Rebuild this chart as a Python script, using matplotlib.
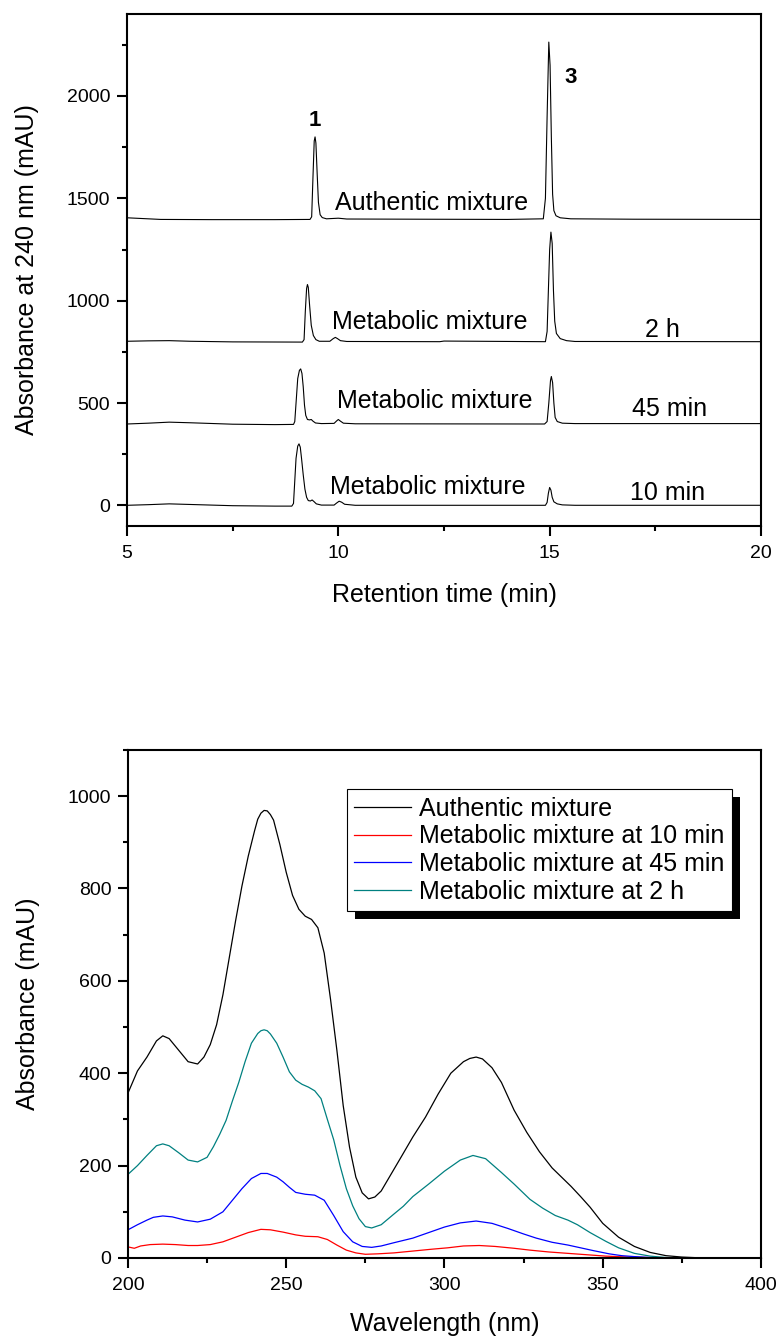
import numpy as np
import matplotlib
matplotlib.use('Agg')
import matplotlib.pyplot as plt
from matplotlib.patches import Rectangle
from matplotlib.ticker import MultipleLocator

plt.rcParams['font.family'] = ['Liberation Sans', 'DejaVu Sans']

# --- chromatograms (retention time in min, absorbance at 240 nm in mAU) ---
t_auth = [5.0, 5.8, 7.0, 8.5, 9.33, 9.37, 9.40, 9.43, 9.45, 9.47, 9.50, 9.53, 9.57, 9.62, 9.72,
          10.0, 10.2, 12.0, 14.0, 14.85, 14.90, 14.94, 14.98, 15.01, 15.04, 15.07, 15.10, 15.15,
          15.25, 15.5, 17.0, 20.0]
y_auth = [1405, 1397, 1396, 1396, 1397, 1410, 1600, 1780, 1800, 1770, 1620, 1480, 1420, 1406, 1400,
          1403, 1399, 1398, 1397, 1400, 1500, 1900, 2263, 2150, 1800, 1520, 1440, 1415,
          1405, 1400, 1398, 1397]

t_2h = [5.0, 5.5, 6.0, 6.5, 7.5, 9.15, 9.19, 9.22, 9.25, 9.27, 9.29, 9.32, 9.36, 9.41, 9.47, 9.55,
        9.80, 9.88, 9.93, 9.98, 10.05, 10.2, 12.4, 12.5, 14.9, 14.94, 14.97, 15.00, 15.03, 15.06,
        15.09, 15.12, 15.16, 15.25, 15.4, 15.6, 20.0]
y_2h = [802, 804, 805, 802, 799, 798, 810, 950, 1060, 1079, 1065, 980, 880, 830, 810, 802,
        802, 815, 821, 815, 805, 801, 800, 803, 800, 850, 1050, 1250, 1335, 1280,
        1050, 900, 840, 815, 805, 801, 800]

t_45 = [5.0, 5.5, 6.0, 6.5, 7.5, 8.5, 8.94, 8.97, 9.0, 9.04, 9.08, 9.11, 9.14, 9.17, 9.20, 9.23,
        9.27, 9.32, 9.36, 9.40, 9.46, 9.6, 9.9, 9.96, 10.0, 10.05, 10.12, 10.4, 14.88, 14.94,
        14.98, 15.02, 15.04, 15.07, 15.10, 15.13, 15.18, 15.3, 15.6, 20.0]
y_45 = [398, 402, 407, 404, 397, 395, 396, 410, 500, 620, 660, 667, 645, 580, 490, 440,
        420, 418, 420, 412, 403, 400, 401, 413, 420, 412, 402, 399, 398, 410,
        500, 610, 630, 600, 500, 430, 410, 402, 400, 400]

t_10 = [5.0, 5.5, 6.0, 6.5, 7.5, 8.5, 8.90, 8.94, 8.97, 9.0, 9.04, 9.07, 9.10, 9.13, 9.17, 9.21,
        9.25, 9.29, 9.34, 9.38, 9.42, 9.48, 9.6, 9.9, 9.96, 10.02, 10.08, 10.15, 10.4, 14.90,
        14.94, 14.97, 15.00, 15.03, 15.06, 15.10, 15.18, 15.3, 15.6, 20.0]
y_10 = [1, 4, 8, 5, -1, -3, -3, 10, 120, 230, 290, 301, 285, 230, 150, 80,
        40, 24, 22, 27, 20, 8, 2, 2, 12, 21, 16, 6, 1, 1,
        15, 60, 88, 75, 40, 18, 8, 3, 1, 1]

# --- UV spectra (wavelength in nm, absorbance in mAU) ---
wl_auth = [200, 203, 206, 209, 211, 213, 216, 219, 222, 224, 226, 228, 230, 232, 234, 236, 238,
           240, 241, 242, 243, 244, 245, 246, 248, 250, 252, 254, 256, 258, 260, 262, 264, 266,
           268, 270, 272, 274, 276, 278, 280, 283, 286, 290, 294, 298, 302, 306, 308, 310, 312,
           315, 318, 322, 326, 330, 334, 337, 340, 343, 346, 350, 355, 360, 365, 370, 375, 380,
           390, 400]
ab_auth = [357, 405, 435, 470, 481, 475, 450, 425, 420, 435, 462, 505, 570, 650, 730, 805, 870,
           925, 950, 963, 969, 968, 960, 948, 895, 835, 785, 755, 740, 733, 715, 660, 560, 450,
           330, 240, 175, 141, 128, 132, 145, 180, 215, 262, 305, 355, 400, 425, 432, 435, 431,
           412, 380, 320, 272, 230, 195, 175, 155, 133, 110, 75, 45, 25, 12, 5, 2, 0.5,
           0, 0]

wl_10 = [200, 202, 204, 207, 211, 215, 219, 222, 226, 230, 234, 238, 242, 245, 249, 253, 256,
         260, 263, 266, 269, 272, 275, 279, 284, 290, 296, 301, 306, 311, 316, 322, 327, 333,
         339, 345, 351, 358, 364, 370, 400]
ab_10 = [24, 21, 26, 29, 30, 29, 27, 27, 29, 35, 45, 55, 62, 61, 56, 50, 47,
         46, 40, 28, 17, 11, 8, 9, 11, 15, 19, 22, 26, 27, 25, 21, 17, 13,
         10, 7, 4, 2, 1, 0, 0]

wl_45 = [200, 203, 206, 208, 211, 214, 218, 222, 226, 230, 233, 236, 239, 242, 244, 247, 249,
         251, 253, 256, 259, 262, 265, 268, 271, 274, 277, 280, 284, 290, 295, 300, 305, 310,
         315, 320, 325, 329, 334, 339, 343, 347, 352, 356, 360, 365, 370, 400]
ab_45 = [61, 72, 82, 88, 91, 89, 82, 78, 84, 100, 125, 150, 172, 183, 183, 175, 165,
         153, 142, 138, 136, 125, 92, 57, 35, 25, 23, 26, 33, 43, 55, 67, 76, 80,
         75, 64, 52, 43, 34, 28, 22, 16, 9, 5, 3, 1, 0, 0]

wl_2h = [200, 203, 206, 209, 211, 213, 216, 219, 222, 225, 227, 229, 231, 233, 235, 237, 239,
         241, 242, 243, 244, 245, 247, 249, 251, 253, 255, 257, 259, 261, 263, 265, 267, 269,
         271, 273, 275, 277, 280, 284, 287, 290, 295, 300, 305, 309, 313, 318, 322, 327, 331,
         335, 339, 342, 346, 351, 355, 360, 365, 370, 380, 400]
ab_2h = [181, 200, 222, 243, 247, 243, 228, 212, 208, 218, 241, 268, 298, 340, 380, 425, 465,
         486, 492, 494, 492, 485, 465, 435, 403, 385, 376, 370, 362, 345, 300, 256, 200, 150,
         113, 85, 68, 65, 72, 95, 112, 133, 160, 188, 212, 222, 215, 185, 160, 127, 108,
         92, 82, 72, 55, 36, 22, 10, 4, 1, 0, 0]

legend_labels = ['Authentic mixture', 'Metabolic mixture at 10 min',
                 'Metabolic mixture at 45 min', 'Metabolic mixture at 2 h']


def style_axes(ax):
    for s in ax.spines.values():
        s.set_linewidth(1.5)
    ax.tick_params(which='major', direction='out', length=7, width=1.5,
                   labelsize=14, pad=5, top=False, right=False)
    ax.tick_params(which='minor', direction='out', length=3.5, width=1.5,
                   top=False, right=False)
    ax.tick_params(axis='x', which='major', pad=7)


fig = plt.figure(figsize=(7.77, 13.37), dpi=100)

# ---------- top: chromatograms ----------
ax1 = fig.add_axes([0.1634, 0.6066, 0.816, 0.3829])
for t, y in [(t_auth, y_auth), (t_2h, y_2h), (t_45, y_45), (t_10, y_10)]:
    ax1.plot(t, y, color='black', lw=0.8)

ax1.set_xlim(5, 20)
ax1.set_ylim(-100, 2400)
ax1.xaxis.set_major_locator(MultipleLocator(5))
ax1.xaxis.set_minor_locator(MultipleLocator(2.5))
ax1.yaxis.set_major_locator(MultipleLocator(500))
ax1.yaxis.set_minor_locator(MultipleLocator(250))
style_axes(ax1)
ax1.set_xlabel('Retention time (min)', fontsize=18, labelpad=15)
ax1.set_ylabel('Absorbance at 240 nm (mAU)', fontsize=18, labelpad=20)

ax1.text(9.44, 1851, '1', fontsize=16, fontweight='bold', ha='center', va='baseline')
ax1.text(15.34, 2065, '3', fontsize=16, fontweight='bold', ha='left', va='baseline')
ax1.text(9.92, 1445, 'Authentic mixture', fontsize=18, ha='left', va='baseline')
ax1.text(9.85, 864, 'Metabolic mixture', fontsize=18, ha='left', va='baseline')
ax1.text(17.25, 825, '2 h', fontsize=18, ha='left', va='baseline')
ax1.text(9.97, 478, 'Metabolic mixture', fontsize=18, ha='left', va='baseline')
ax1.text(16.95, 435, '45 min', fontsize=18, ha='left', va='baseline')
ax1.text(9.80, 54, 'Metabolic mixture', fontsize=18, ha='left', va='baseline')
ax1.text(16.9, 29, '10 min', fontsize=18, ha='left', va='baseline')

# ---------- bottom: UV spectra ----------
ax2 = fig.add_axes([0.1647, 0.0591, 0.8147, 0.38])
l_auth, = ax2.plot(wl_auth, ab_auth, color='black', lw=0.9)
l_10, = ax2.plot(wl_10, ab_10, color='red', lw=0.9)
l_2h, = ax2.plot(wl_2h, ab_2h, color='#008080', lw=0.9)
l_45, = ax2.plot(wl_45, ab_45, color='blue', lw=0.9)

ax2.set_xlim(200, 400)
ax2.set_ylim(0, 1100)
ax2.xaxis.set_major_locator(MultipleLocator(50))
ax2.xaxis.set_minor_locator(MultipleLocator(25))
ax2.yaxis.set_major_locator(MultipleLocator(200))
ax2.yaxis.set_minor_locator(MultipleLocator(100))
style_axes(ax2)
ax2.set_xlabel('Wavelength (nm)', fontsize=18, labelpad=13)
ax2.set_ylabel('Absorbance (mAU)', fontsize=18, labelpad=20)

leg = ax2.legend([l_auth, l_10, l_45, l_2h], legend_labels, fontsize=18,
                 loc='upper left', bbox_to_anchor=(0.346, 0.923), borderaxespad=0,
                 fancybox=False, framealpha=1, edgecolor='black',
                 handlelength=2.25, handletextpad=0.35, labelspacing=0.15,
                 borderpad=0.3)
leg.get_frame().set_linewidth(0.8)

# drop shadow behind the legend box
fig.canvas.draw()
bb = leg.get_window_extent()
shadow = Rectangle((bb.x0 + 8, bb.y0 - 8), bb.width, bb.height, transform=None,
                   facecolor='black', edgecolor='none', zorder=leg.get_zorder() - 0.5,
                   clip_on=False)
ax2.add_patch(shadow)

fig.savefig('out.png', dpi=100)
